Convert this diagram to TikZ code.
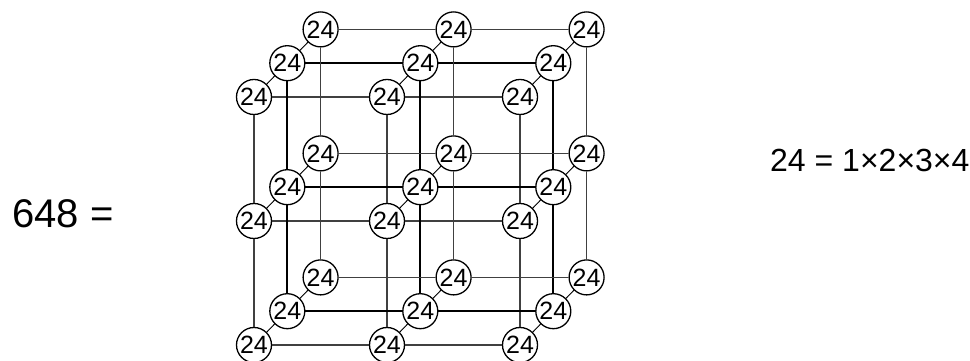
\documentclass[tikz,border=0pt]{standalone}
\usepackage{fontspec}
\setmainfont{Liberation Sans}
\usepackage{tikz}
\usetikzlibrary{positioning}

\begin{document}
\begin{tikzpicture}[x=1pt,y=1pt,
    num/.style={circle,draw=black,line width=1.3pt,fill=white,inner sep=0pt,
                minimum size=35pt,font=\fontsize{25}{25}\selectfont},
    rim/.style={line width=1.2pt,black!75},
    core/.style={line width=1.7pt,black},
    depth/.style={line width=1pt,black},
    eq/.style={anchor=base west,inner sep=0pt}
  ]
    \useasboundingbox (0,0) rectangle (970,361);

    % lattice of 3x3x3 circles
    \foreach \i in {0,1,2}
      \foreach \j in {0,1,2}
        \foreach \k in {0,1,2}
          \node[num] (n\i\j\k) at ({254+133*\i+33.3*\k},{16+124*\j+33.8*\k}) {24};

    % rows and columns in each layer
    \foreach \k/\sty in {0/rim,1/core,2/rim}
      \foreach \a/\b in {0/1,1/2}
        \foreach \c in {0,1,2} {
          \draw[\sty] (n\a\c\k) -- (n\b\c\k);
          \draw[\sty] (n\c\a\k) -- (n\c\b\k);
        }

    % links between layers
    \foreach \i in {0,1,2}
      \foreach \j in {0,1,2} {
        \draw[depth] (n\i\j0) -- (n\i\j1);
        \draw[depth] (n\i\j1) -- (n\i\j2);
      }

    \node[eq,font=\fontsize{40}{40}\selectfont] (total) at (12,133) {648 =};
    \node[eq,font=\fontsize{32}{32}\selectfont] (rule) at (770,189) {24 = 1×2×3×4};
\end{tikzpicture}
\end{document}
